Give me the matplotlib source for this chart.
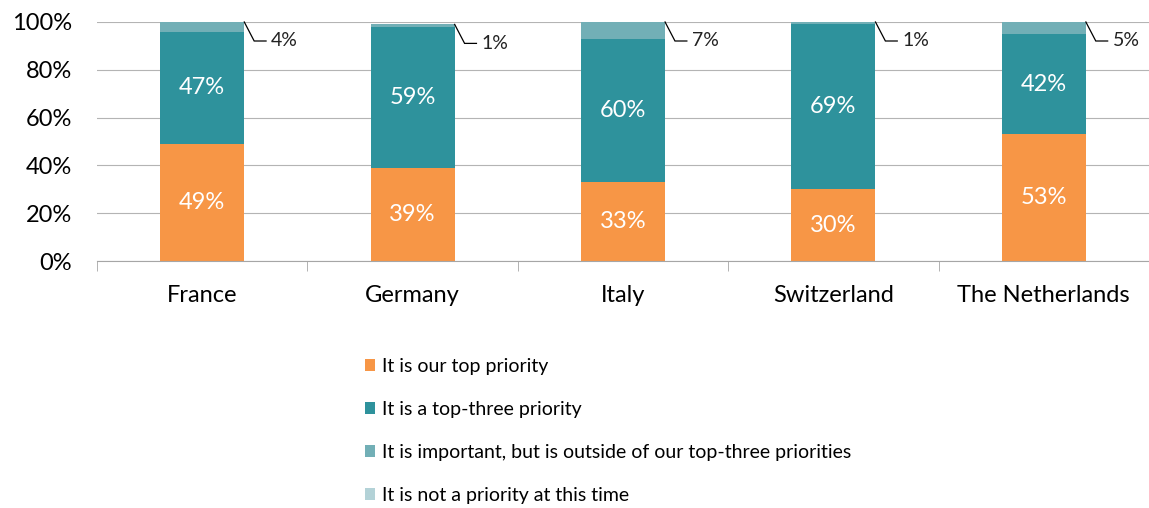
import matplotlib
matplotlib.use("Agg")
import matplotlib.pyplot as plt
from matplotlib.patches import Patch
import numpy as np

plt.rcParams['font.family'] = ['Lato', 'DejaVu Sans']

countries = ["France", "Germany", "Italy", "Switzerland", "The Netherlands"]
top_priority = [49, 39, 33, 30, 53]
top_three = [47, 59, 60, 69, 42]
important_outside = [4, 1, 7, 1, 5]
not_priority = [0, 0, 0, 0, 0]

series_labels = [
    "It is our top priority",
    "It is a top-three priority",
    "It is important, but is outside of our top-three priorities",
    "It is not a priority at this time",
]
colors = ["#F79646", "#2E929C", "#72AFB6", "#B3D2D7"]

W, H = 1149, 508
fig = plt.figure(figsize=(W / 100, H / 100), dpi=100)
left_px, right_px = 97, 1149
bottom_px, top_px = 261, 22
ax = fig.add_axes([left_px / W, 1 - bottom_px / H,
                   (right_px - left_px) / W, (bottom_px - top_px) / H])

cat_w = 212.6
x = np.arange(len(countries))
ax.set_xlim(-0.5, -0.5 + (right_px - left_px) / cat_w)
ax.set_ylim(0, 100)
ax.set_axisbelow(True)

bw = 0.4
series = [top_priority, top_three, important_outside, not_priority]
bottom = np.zeros(len(countries))
for vals, col in zip(series, colors):
    ax.bar(x, vals, bw, bottom=bottom, color=col, linewidth=0, zorder=2)
    bottom += np.array(vals)

# white labels centred in the two main segments
for i in x:
    ax.text(i, top_priority[i] / 2, f"{top_priority[i]}%", ha="center", va="center",
            color="white", fontsize=17, zorder=3)
    ax.text(i, top_priority[i] + top_three[i] / 2, f"{top_three[i]}%",
            ha="center", va="center", color="white", fontsize=17, zorder=3)

# callout labels for the thin top segment
px_x = cat_w
px_y = (bottom_px - top_px) / 100
for i in x:
    x0 = i + bw / 2
    y0 = top_priority[i] + top_three[i] + important_outside[i]
    x1 = x0 + 10 / px_x
    y1 = y0 - 19 / px_y
    x2 = x1 + 12 / px_x
    ax.plot([x0, x1, x2], [y0, y1, y1], color="black", lw=0.9,
            solid_joinstyle="miter", clip_on=False, zorder=3)
    ax.text(x2 + 5 / px_x, y1, f"{important_outside[i]}%", ha="left",
            va="center", fontsize=14, color="#222222")

# axes styling
for s in ["top", "right", "left"]:
    ax.spines[s].set_visible(False)
ax.spines["bottom"].set_color("#A6A6A6")
ax.yaxis.grid(True, color="#B4B4B4", lw=0.8)

ax.set_yticks(np.arange(0, 101, 20))
ax.set_yticklabels([f"{v}%" for v in range(0, 101, 20)], fontsize=17)
ax.tick_params(axis="y", length=0, pad=18)

ax.set_xticks(x)
ax.set_xticklabels(countries, fontsize=17)
ax.tick_params(axis="x", length=0, pad=17.5)
ax.set_xticks(np.arange(-0.5, len(countries), 1.0), minor=True)
ax.tick_params(axis="x", which="minor", length=7, color="#A6A6A6", direction="out")

handles = [Patch(facecolor=c, edgecolor="none") for c in colors]
fig.legend(handles, series_labels, loc="upper left",
           bbox_to_anchor=(357 / W, 1 - 350 / H), frameon=False,
           fontsize=14, handlelength=0.55, handleheight=0.55,
           handletextpad=0.35, labelspacing=1.34, borderaxespad=0)

fig.savefig("out.png", dpi=100)
